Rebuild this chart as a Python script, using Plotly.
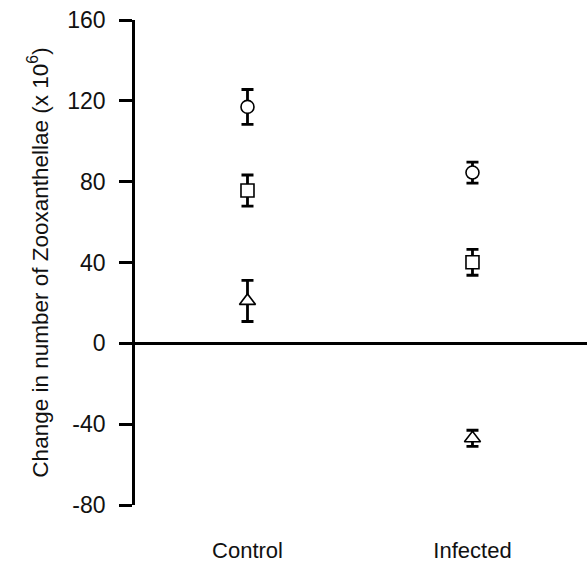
import plotly.graph_objects as go

categories = ["Control", "Infected"]

circle_values = [117.0, 84.5]
circle_errors = [8.6, 5.2]

square_values = [75.6, 40.1]
square_errors = [7.7, 6.4]

triangle_values = [21.0, -47.0]
triangle_errors = [10.2, 4.0]

y_tick_values = [-80, -40, 0, 40, 80, 120, 160]
y_tick_labels = ["-80", "-40", "0", "40", "80", "120", "160"]

FONT = "Liberation Sans, Arial, sans-serif"

series = [
    ("circle", circle_values, circle_errors, "circle", 13),
    ("square", square_values, square_errors, "square", 13),
    ("triangle", triangle_values, triangle_errors, "triangle-up", 14),
]

fig = go.Figure()
for name, vals, errs, sym, sz in series:
    fig.add_trace(go.Scatter(
        x=categories, y=vals, name=name, mode="markers",
        marker=dict(symbol=sym, size=sz, color="white",
                    line=dict(color="black", width=1.6)),
        error_y=dict(type="data", array=errs, visible=True, color="black",
                     thickness=2.8, width=6),
        cliponaxis=False,
    ))

fig.update_layout(
    width=587, height=562,
    margin=dict(l=135, r=0, t=20, b=57),
    paper_bgcolor="white", plot_bgcolor="white",
    showlegend=False,
    font=dict(family=FONT, size=22, color="#111"),
)
fig.update_xaxes(
    type="category", range=[-0.5, 1.509],
    showline=False, showgrid=False, zeroline=False,
    ticks="", ticklabelstandoff=30,
    tickfont=dict(family=FONT, size=22, color="#111"),
)
fig.update_yaxes(
    range=[-80, 160],
    tickvals=y_tick_values, ticktext=y_tick_labels,
    showline=True, linecolor="black", linewidth=2.6,
    ticks="outside", ticklen=13, tickwidth=2.6, tickcolor="black",
    showgrid=False,
    zeroline=True, zerolinecolor="black", zerolinewidth=2.6,
    ticklabelstandoff=9,
    tickfont=dict(family=FONT, size=23, color="#111"),
    title=dict(text="Change in number of Zooxanthellae (x 10<sup>6</sup>)",
               font=dict(family=FONT, size=22.5, color="#111"), standoff=13),
)

fig.write_html("out.html",
               config={"displayModeBar": False},
               post_script="document.body.style.margin='0';document.body.style.overflow='hidden';")
